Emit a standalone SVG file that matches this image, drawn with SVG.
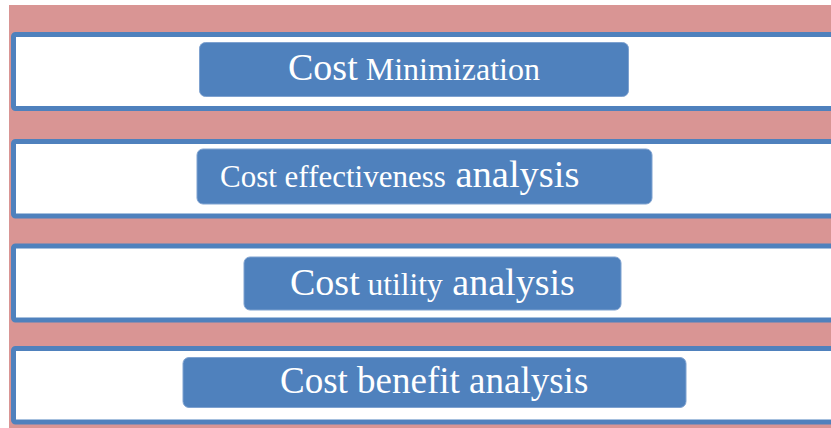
<svg xmlns="http://www.w3.org/2000/svg" width="831" height="428" viewBox="0 0 831 428">
  <style>
    .band { fill: #FFFFFF; stroke: #4F81BD; stroke-width: 5; }
    .box { fill: #4F81BD; stroke: #7FA2D0; stroke-width: 1; }
    .lbl { fill: #FFFFFF; font-family: "Liberation Serif", "Times New Roman", serif; }
  </style>
  <rect x="0" y="0" width="831" height="428" fill="#FFFFFF"/>
  <rect x="9" y="5" width="822" height="423" fill="#D99594"/>
  <g id="row-cost-minimization">
    <rect class="band" x="13.5" y="34.5" width="830" height="74" rx="2"/>
    <rect class="box" x="199.5" y="42.5" width="429" height="54" rx="6"/>
    <text class="lbl" x="288" y="80"><tspan font-size="38">Cost</tspan><tspan font-size="32"> Minimization</tspan></text>
  </g>
  <g id="row-cost-effectiveness">
    <rect class="band" x="13.5" y="141.5" width="830" height="74.5" rx="2"/>
    <rect class="box" x="197" y="149" width="455" height="55" rx="6"/>
    <text class="lbl" x="220" y="187"><tspan font-size="31">Cost effectiveness</tspan><tspan font-size="38.5"> analysis</tspan></text>
  </g>
  <g id="row-cost-utility">
    <rect class="band" x="13.5" y="246" width="830" height="74" rx="2"/>
    <rect class="box" x="244" y="257" width="377" height="53" rx="6"/>
    <text class="lbl" x="290" y="295"><tspan font-size="38">Cost</tspan><tspan font-size="31.5"> utility</tspan><tspan font-size="38"> analysis</tspan></text>
  </g>
  <g id="row-cost-benefit">
    <rect class="band" x="13.5" y="348.5" width="830" height="73.5" rx="2"/>
    <rect class="box" x="183" y="357.5" width="503" height="50" rx="6"/>
    <text class="lbl" x="280" y="393" font-size="37">Cost benefit analysis</text>
  </g>
</svg>
